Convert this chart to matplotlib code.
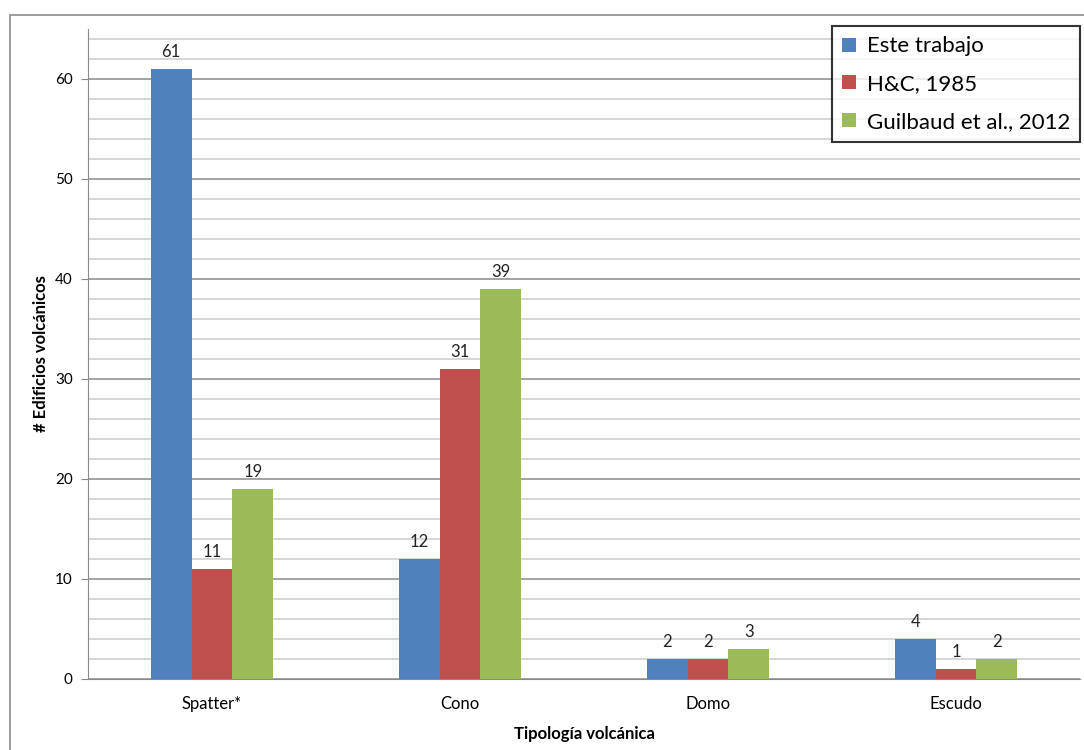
import numpy as np
import matplotlib
matplotlib.use("Agg")
import matplotlib.pyplot as plt
from matplotlib.patches import Rectangle

plt.rcParams['font.family'] = ['Lato', 'DejaVu Sans']

# data
categorias = ['Spatter*', 'Cono', 'Domo', 'Escudo']
series = ['Este trabajo', 'H&C, 1985', 'Guilbaud et al., 2012']
este_trabajo = [61, 12, 2, 4]
hc_1985 = [11, 31, 2, 1]
guilbaud_2012 = [19, 39, 3, 2]
colores = ['#4F81BD', '#C0504D', '#9BBB59']

fig = plt.figure(figsize=(10.84, 7.5), dpi=100)
ax = fig.add_axes([88/1084, 71/750, 992/1084, 650/750])

# outer chart frame
fig.patches.append(Rectangle((10/1084, -0.05), 1.1, (735/750) + 0.05, transform=fig.transFigure,
                             fill=False, edgecolor='#8c8c8c', linewidth=1.2))

x = np.arange(len(categorias))
w = 0.165
valores = [este_trabajo, hc_1985, guilbaud_2012]
for i, (vals, nombre, c) in enumerate(zip(valores, series, colores)):
    pos = x + (i - 1) * w
    bars = ax.bar(pos, vals, width=w, color=c, label=nombre, zorder=3)
    for b, v in zip(bars, vals):
        ax.text(b.get_x() + b.get_width()/2, v + 0.9, str(v), ha='center', va='bottom',
                fontsize=12, color='#222222')

ax.set_xlim(-0.5, 3.5)
ax.set_ylim(0, 65)
ax.set_yticks(range(0, 61, 10))
ax.set_yticks(np.arange(0, 65, 2), minor=True)
ax.grid(axis='y', which='major', color='#8a8a8a', linewidth=1.1, zorder=0)
ax.grid(axis='y', which='minor', color='#cccccc', linewidth=1.1, zorder=0)
ax.set_xticks(x)
ax.set_xticklabels(categorias, fontsize=12)
ax.tick_params(axis='x', length=0, pad=12)
ax.tick_params(axis='y', which='major', length=5, color='#8a8a8a', labelsize=11, pad=6)
ax.tick_params(axis='y', which='minor', length=0)
for s in ['top', 'right']:
    ax.spines[s].set_visible(False)
ax.spines['left'].set_color('#8a8a8a')
ax.spines['bottom'].set_color('#8a8a8a')

ax.set_xlabel('Tipología volcánica', fontsize=12, fontweight='bold', labelpad=10)
ax.set_ylabel('# Edificios volcánicos', fontsize=12, fontweight='bold', labelpad=4)

leg = ax.legend(loc='upper right', bbox_to_anchor=(1.0, 1.004), fontsize=16, frameon=True,
                fancybox=False, edgecolor='black', handlelength=0.6, handleheight=0.6,
                handletextpad=0.5, labelspacing=0.8, borderpad=0.45, borderaxespad=0)
leg.get_frame().set_linewidth(1.5)

fig.savefig('out.png', dpi=100)
